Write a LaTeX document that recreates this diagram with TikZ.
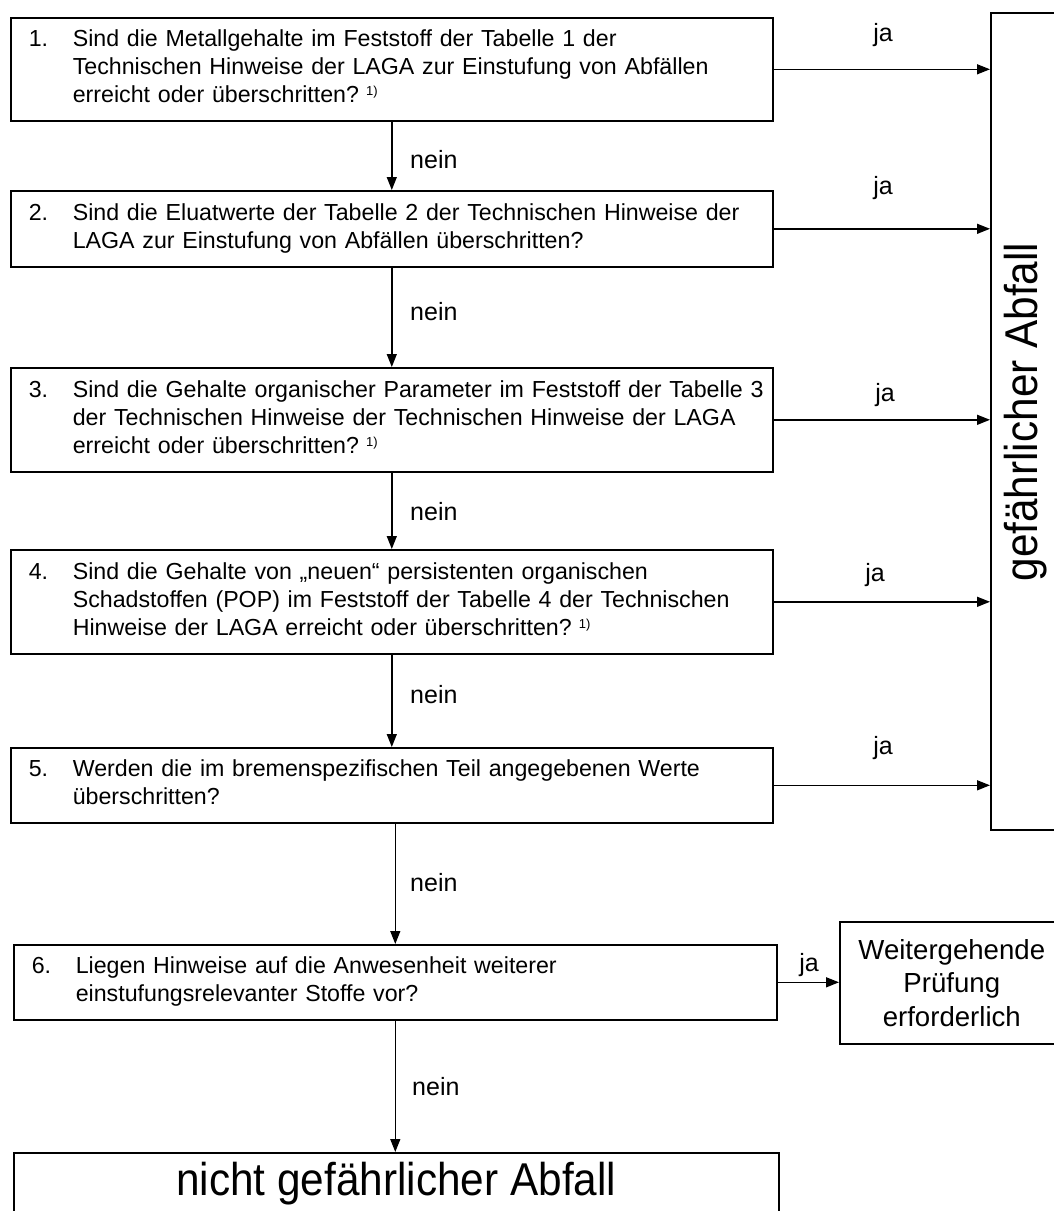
\documentclass[tikz,border=0pt]{standalone}
\usepackage{fontspec}
\setmainfont{Liberation Sans}
\usepackage{graphicx}
\usetikzlibrary{arrows.meta}
\newcommand\bxfont{\fontsize{23.2}{28}\selectfont\spaceskip=9.4pt\relax}
\newcommand\labfont{\fontsize{25}{30}\selectfont}
\newcommand\wfont{\fontsize{27.6}{33.5}\selectfont}
\newcommand\bigfont{\fontsize{46}{52}\selectfont}
\newcommand\nbx[1]{\makebox[44pt][l]{#1}}
\newcommand\fnm{\hspace{7pt}\raisebox{7pt}{\fontsize{13}{13}\selectfont 1)}}
\begin{document}
\begin{tikzpicture}[x=1pt,y=-1pt,
  box/.style={draw, line width=1.6pt, rectangle, inner xsep=18pt, inner ysep=0pt,
              anchor=north west, align=left, font=\bxfont},
  plainbox/.style={draw, line width=1.6pt, rectangle, anchor=north west, inner sep=0pt},
  arr/.style={line width=1.4pt, -{Triangle[length=13pt,width=10pt]}},
  lab/.style={font=\labfont, inner sep=0pt}]
\useasboundingbox (0,0) rectangle (1053,1211);

% question boxes
\node[box, text width=726pt, minimum height=103pt] (B1) at (10,17)
 {\begin{tabular}{@{}l@{}l@{}}\nbx{1.}&Sind die Metallgehalte im Feststoff der Tabelle 1 der\\
  &Technischen Hinweise der LAGA zur Einstufung von Abfällen\\
  &erreicht oder überschritten?\fnm\end{tabular}};
\node[box, text width=726pt, minimum height=76pt] (B2) at (10,190)
 {\begin{tabular}{@{}l@{}l@{}}\nbx{2.}&Sind die Eluatwerte der Tabelle 2 der Technischen Hinweise der\\
  &LAGA zur Einstufung von Abfällen überschritten?\end{tabular}};
\node[box, text width=726pt, minimum height=104pt] (B3) at (10,367)
 {\begin{tabular}{@{}l@{}l@{}}\nbx{3.}&Sind die Gehalte organischer Parameter im Feststoff der Tabelle 3\\
  &der Technischen Hinweise der Technischen Hinweise der LAGA\\
  &erreicht oder überschritten?\fnm\end{tabular}};
\node[box, text width=726pt, minimum height=104pt] (B4) at (10,549)
 {\begin{tabular}{@{}l@{}l@{}}\nbx{4.}&Sind die Gehalte von „neuen“ persistenten organischen\\
  &Schadstoffen (POP) im Feststoff der Tabelle 4 der Technischen\\
  &Hinweise der LAGA erreicht oder überschritten?\fnm\end{tabular}};
\node[box, text width=726pt, minimum height=75pt] (B5) at (10,747)
 {\begin{tabular}{@{}l@{}l@{}}\nbx{5.}&Werden die im bremenspezifischen Teil angegebenen Werte\\
  &überschritten?\end{tabular}};
\node[box, text width=727pt, minimum height=75pt] (B6) at (13,944)
 {\begin{tabular}{@{}l@{}l@{}}\nbx{6.}&Liegen Hinweise auf die Anwesenheit weiterer\\
  &einstufungsrelevanter Stoffe vor?\end{tabular}};

% result boxes
\node[plainbox, minimum width=90pt, minimum height=817pt] (R) at (990,12) {};
\node[rotate=90, anchor=base, font=\bigfont, inner sep=0pt] (Rt) at (1037,412)
 {\scalebox{0.92}[1]{gefährlicher Abfall}};
\node[plainbox, minimum width=224pt, minimum height=122pt, align=center, font=\wfont] (W) at (839,921)
 {Weitergehende\\Prüfung\\erforderlich};
\node[plainbox, minimum width=765pt, text height=43pt, text depth=60pt, font=\bigfont] (N) at (13,1152)
 {\scalebox{0.92}[1]{nicht gefährlicher Abfall}};

% vertical connectors
\draw[arr] (B1.south) -- (B2.north);
\draw[arr] (B2.south) -- (B3.north);
\draw[arr] (B3.south) -- (B4.north);
\draw[arr] (B4.south) -- (B5.north);
\draw[arr] (B6.north |- B5.south) -- (B6.north);
\draw[arr] (B6.south) -- (B6.south |- N.north);

% horizontal connectors
\draw[arr] (B1.east) -- (B1.east -| R.west);
\draw[arr] (B2.east) -- (B2.east -| R.west);
\draw[arr] (B3.east) -- (B3.east -| R.west);
\draw[arr] (B4.east) -- (B4.east -| R.west);
\draw[arr] (B5.east) -- (B5.east -| R.west);
\draw[arr] (B6.east) -- (B6.east -| W.west);

% labels
\node[lab] (j1) at (883,35) {ja};
\node[lab] (j2) at (883,188) {ja};
\node[lab] (j3) at (885,395) {ja};
\node[lab] (j4) at (875,575) {ja};
\node[lab] (j5) at (883,748) {ja};
\node[lab] (j6) at (809,965) {ja};
\node[lab, anchor=west] (n1) at (410,160) {nein};
\node[lab, anchor=west] (n2) at (410,312) {nein};
\node[lab, anchor=west] (n3) at (410,512) {nein};
\node[lab, anchor=west] (n4) at (410,695) {nein};
\node[lab, anchor=west] (n5) at (410,883) {nein};
\node[lab, anchor=west] (n6) at (412,1087) {nein};
\end{tikzpicture}
\end{document}
